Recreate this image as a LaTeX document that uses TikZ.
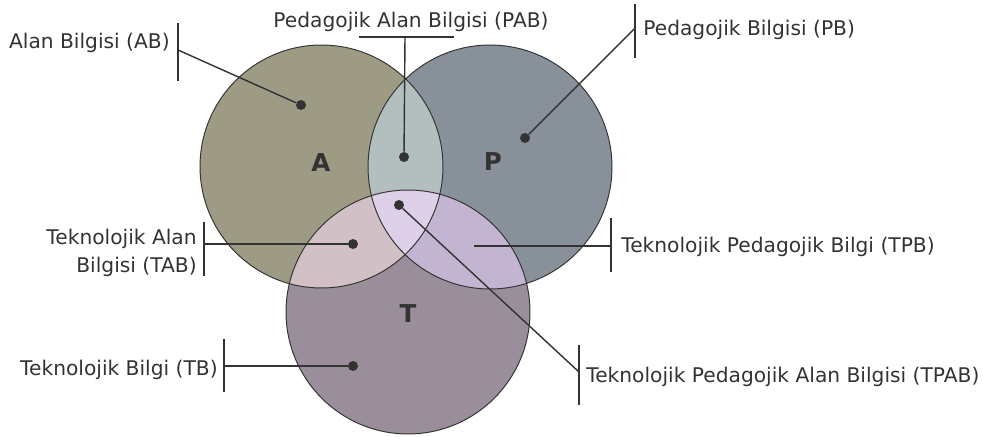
\documentclass[tikz,border=0pt]{standalone}
\usepackage{fontspec}
\setmainfont{DejaVu Sans}
\usepackage{xcolor}
\usetikzlibrary{positioning}

\definecolor{colA}{HTML}{9D9B84}
\definecolor{colP}{HTML}{88919A}
\definecolor{colT}{HTML}{9B8E9B}
\definecolor{colAP}{HTML}{B3BFBE}
\definecolor{colAT}{HTML}{D1C0C5}
\definecolor{colPT}{HTML}{C3B5D2}
\definecolor{colAPT}{HTML}{DED0E9}
\definecolor{ink}{HTML}{333333}

\begin{document}
\begin{tikzpicture}[
    x=0.02cm, y=-0.02cm,
    region/.style={draw=ink, line width=0.55pt},
    lead/.style={draw=ink, line width=0.8pt},
    bar/.style={draw=ink, line width=0.85pt},
    dot/.style={circle, fill=ink, inner sep=0pt, minimum size=0.2cm},
    lbl/.style={font=\fontsize{11.5}{16}\selectfont, text=ink, inner sep=0pt},
    letter/.style={font=\bfseries\fontsize{14}{16}\selectfont, text=ink},
]
\useasboundingbox (0,0) rectangle (983,436);

% the three sets
\def\areaA{(321.5,166.5) circle[radius=2.43cm]}
\def\areaP{(490,167) circle[radius=2.44cm]}
\def\areaT{(408,312) circle[radius=2.44cm]}

\fill[colA] \areaA;
\fill[colP] \areaP;
\fill[colT] \areaT;
\begin{scope}
    \clip \areaA;
    \fill[colAP] \areaP;
    \fill[colAT] \areaT;
\end{scope}
\begin{scope}
    \clip \areaP;
    \fill[colPT] \areaT;
\end{scope}
\begin{scope}
    \clip \areaA;
    \clip \areaP;
    \fill[colAPT] \areaT;
\end{scope}
\draw[region] \areaA;
\draw[region] \areaP;
\draw[region] \areaT;

\node[letter] (lA) at (321,163) {A};
\node[letter] (lP) at (493,162) {P};
\node[letter] (lT) at (408,314) {T};

% dots inside the regions
\node[dot] (dAB) at (301,105) {};
\node[dot] (dPAB) at (404,157) {};
\node[dot] (dPB) at (525,138) {};
\node[dot] (dTAB) at (353,244) {};
\node[dot] (dTPAB) at (399,205) {};
\node[dot] (dTB) at (353,366) {};
\coordinate (dTPB) at (474,246);

% label texts
\node[lbl, anchor=east] (tAB) at (170,43) {Alan Bilgisi (AB)};
\node[lbl] (tPAB) at (411,22) {Pedagojik Alan Bilgisi (PAB)};
\node[lbl, anchor=west] (tPB) at (643,30) {Pedagojik Bilgisi (PB)};
\node[lbl, anchor=east, align=right] (tTAB) at (197,253) {Teknolojik Alan\\Bilgisi (TAB)};
\node[lbl, anchor=west] (tTPB) at (621,247) {Teknolojik Pedagojik Bilgi (TPB)};
\node[lbl, anchor=west] (tTPAB) at (586,377) {Teknolojik Pedagojik Alan Bilgisi (TPAB)};
\node[lbl, anchor=east] (tTB) at (218,370) {Teknolojik Bilgi (TB)};

% bars beside the labels
\coordinate (bAB) at (178,50);
\coordinate (bPAB) at (405,37);
\coordinate (bPB) at (635,28);
\coordinate (bTAB) at (204,244);
\coordinate (bTPB) at (611,246);
\coordinate (bTPAB) at (579,372);
\coordinate (bTB) at (224,366);

\draw[bar] (178,23) -- (178,81);
\draw[bar] (359,37) -- (454,37);
\draw[bar] (635,4) -- (635,58);
\draw[bar] (204,222) -- (204,276);
\draw[bar] (611,218) -- (611,272);
\draw[bar] (579,345) -- (579,405);
\draw[bar] (224,339) -- (224,392);

\draw[lead] (bAB) -- (dAB);
\draw[lead] (bPAB) -- (dPAB);
\draw[lead] (bPB) -- (dPB);
\draw[lead] (bTAB) -- (dTAB);
\draw[lead] (dTPB) -- (bTPB);
\draw[lead] (dTPAB) -- (bTPAB);
\draw[lead] (bTB) -- (dTB);

\end{tikzpicture}
\end{document}
